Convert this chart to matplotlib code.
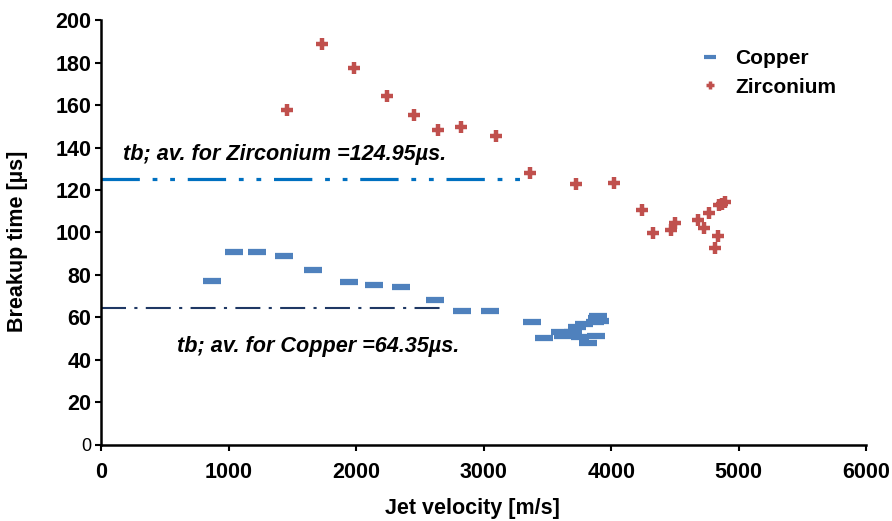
import matplotlib.pyplot as plt

plt.rcParams['font.family'] = ['Liberation Sans', 'DejaVu Sans']

# Copper breakup times
cu_v = [873, 1040, 1226, 1435, 1663, 1942, 2138, 2350, 2620, 2829, 3053, 3378,
        3474, 3600, 3620, 3700, 3730, 3790, 3757, 3815, 3880, 3870, 3890, 3900, 3910]
cu_t = [77.3, 91, 90.7, 89, 82.5, 76.5, 75.4, 74.3, 68, 63, 63, 57.7,
        50.5, 53, 51.5, 53.3, 55.7, 57, 51, 48, 51.3, 58, 59.6, 60.6, 58.5]

# Zirconium breakup times
zr_v = [1459, 1733, 1984, 2243, 2455, 2643, 2824, 3098, 3365, 3725, 4024,
        4240, 4324, 4468, 4502, 4677, 4724, 4769, 4837, 4810, 4849, 4870, 4894]
zr_t = [157.6, 188.7, 177.4, 164.2, 155.3, 148.2, 149.6, 145.4, 128, 122.8, 123.3,
        110.6, 99.6, 101.2, 104.6, 105.9, 102, 109.3, 98.4, 92.6, 113, 113.5, 114.5]

zr_avg = 124.95
cu_avg = 64.35

fig = plt.figure(figsize=(8.92, 5.21), dpi=100)
ax = fig.add_axes([0.1132, 0.1459, 0.858, 0.8157])

ax.plot([0, 3360], [zr_avg, zr_avg], color='#0070C0', lw=2.3,
        dashes=[12, 4, 1.5, 4, 1.5, 4])
ax.plot([0, 2700], [cu_avg, cu_avg], color='#1F3864', lw=1.5,
        dashes=[12, 4, 1.5, 4])

ax.plot(cu_v, cu_t, ls='none', marker='_', ms=13, mew=4.5, color='#4F81BD',
        label='Copper')
ax.plot(zr_v, zr_t, ls='none', marker='+', ms=9, mew=3.2, color='#C0504D',
        label='Zirconium')

ax.text(173, 136.5, 'tb; av. for Zirconium =124.95µs.', fontsize=15.6,
        fontstyle='italic', fontweight='bold', va='center')
ax.text(596, 46.5, 'tb; av. for Copper =64.35µs.', fontsize=15.6,
        fontstyle='italic', fontweight='bold', va='center')

ax.set_xlim(0, 6000)
ax.set_ylim(0, 200)
ax.set_xticks(range(0, 6001, 1000))
ax.set_yticks(range(0, 201, 20))
ax.tick_params(axis='y', labelsize=15.5, length=4, width=1.5, pad=3)
ax.tick_params(axis='x', labelsize=15.5, length=4, width=1.5, pad=8)
for lab in ax.get_xticklabels() + ax.get_yticklabels()[1:]:
    lab.set_fontweight('bold')
ax.get_yticklabels()[0].set_fontsize(13)
ax.spines['top'].set_visible(False)
ax.spines['right'].set_visible(False)
ax.spines['left'].set_linewidth(1.8)
ax.spines['bottom'].set_linewidth(1.8)

ax.set_xlabel('Jet velocity [m/s]', fontsize=15.5, fontweight='bold')
ax.xaxis.set_label_coords(0.486, -0.125)
ax.set_ylabel('Breakup time [µs]', fontsize=15.5, fontweight='bold')
ax.yaxis.set_label_coords(-0.095, 0.48)

leg = ax.legend(loc='upper right', bbox_to_anchor=(0.985, 0.975), frameon=False,
                prop={'size': 15, 'weight': 'bold'},
                handlelength=0.8, handletextpad=0.8, labelspacing=0.45)
h_cu, h_zr = leg.legend_handles
h_cu.set_markersize(8)
h_cu.set_markeredgewidth(3)
h_zr.set_markersize(6)
h_zr.set_markeredgewidth(2.5)

fig.savefig('out.png', dpi=100)
